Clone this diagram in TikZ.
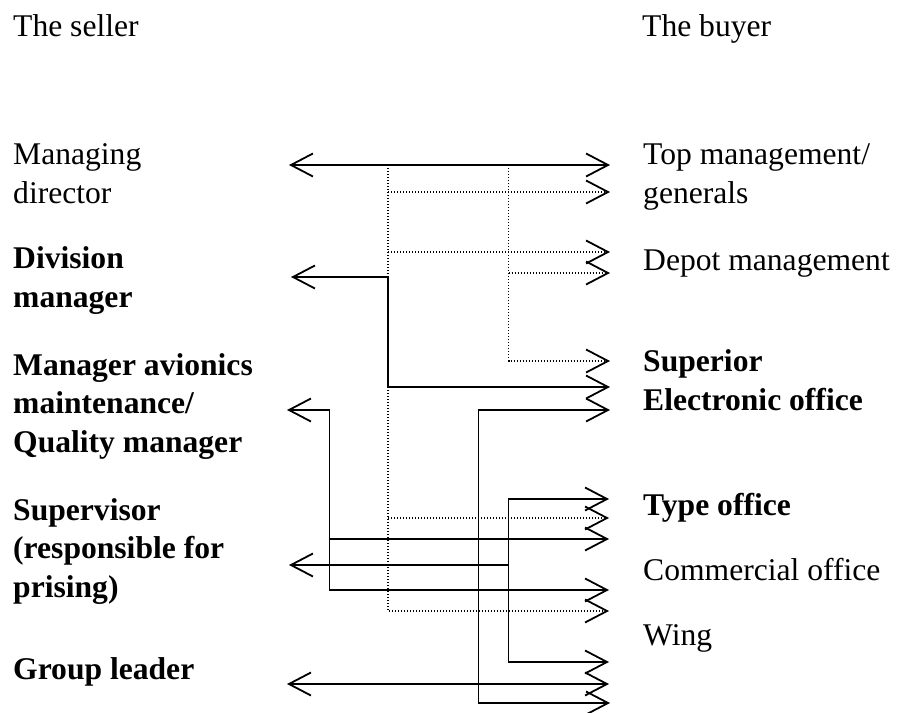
\documentclass[tikz,border=0pt]{standalone}
\usepackage{fontspec}
\setmainfont[Ligatures=CommonOff]{Liberation Serif}
\usetikzlibrary{arrows.meta}
\begin{document}
\begin{tikzpicture}[x=1pt,y=-1pt,
  barb/.tip={Straight Barb[length=22pt,width=23pt,line width=1.8pt]},
  lbl/.style={anchor=base west, inner sep=0pt, align=left,
    font=\fontsize{31.6}{38.3}\selectfont},
  blbl/.style={lbl, font=\fontsize{31.6}{38.3}\selectfont\bfseries},
  link/.style={line width=1.8pt},
  weak/.style={line width=1.3pt, dash pattern=on 1.3pt off 1.7pt},
  ]
\useasboundingbox (0,0) rectangle (898,713);

% column headings
\node[lbl] (seller) at (13,36) {The seller};
\node[lbl] (buyer) at (642,36) {The buyer};

% seller side (multi-line labels sit on the baseline of their last line)
\node[lbl]  (md)  at (13,203) {Managing\\director};
\node[blbl] (div) at (13,307) {Division\\manager};
\node[blbl] (avi) at (13,452) {Manager avionics\\maintenance/\\Quality manager};
\node[blbl] (sup) at (13,597) {Supervisor\\(responsible for\\prising)};
\node[blbl] (grp) at (13,679) {Group leader};

% buyer side
\node[lbl]  (top)   at (643,203) {Top management/\\generals};
\node[lbl]  (depot) at (643,270) {Depot management};
\node[blbl] (elec)  at (643,410) {Superior\\Electronic office};
\node[blbl] (type)  at (643,515) {Type office};
\node[lbl]  (comm)  at (643,580) {Commercial office};
\node[lbl]  (wing)  at (643,645) {Wing};

% ports on the seller side
\coordinate (pMD)  at (289,165);
\coordinate (pDIV) at (291,277);
\coordinate (pAVI) at (287,410);
\coordinate (pSUP) at (289,565);
\coordinate (pGRP) at (287,684);

% ports on the buyer side
\coordinate (qTOP1) at (610,165);
\coordinate (qTOP2) at (610,192);
\coordinate (qDEP1) at (610,252);
\coordinate (qDEP2) at (610,273);
\coordinate (qSUP1) at (610,361);
\coordinate (qSUP2) at (610,387);
\coordinate (qSUP3) at (610,410);
\coordinate (qTYP1) at (609,499);
\coordinate (qTYP2) at (609,518);
\coordinate (qTYP3) at (609,539);
\coordinate (qCOM1) at (609,590);
\coordinate (qCOM2) at (609,611);
\coordinate (qWNG1) at (609,662);
\coordinate (qWNG2) at (609,684);
\coordinate (qWNG3) at (610,703);

% junctions on the vertical buses
\coordinate (jB0)  at (388,165);
\coordinate (jB1)  at (388,192);
\coordinate (jB2)  at (388,252);
\coordinate (jB3)  at (388,518);
\coordinate (jD0)  at (508.5,165);
\coordinate (jD1)  at (508.5,273);
\coordinate (jDIV) at (388,387);
\coordinate (jA1)  at (329.5,539);
\coordinate (jAVI) at (329.5,590);
\coordinate (jS1)  at (508.5,565);
\coordinate (jSUP) at (508.5,662);
\coordinate (jEL)  at (478.5,703);

% dotted (informal) contacts
\draw[weak,-barb] (jB0) |- (qCOM2);
\draw[weak,-barb] (jB1) -- (qTOP2);
\draw[weak,-barb] (jB2) -- (qDEP1);
\draw[weak,-barb] (jB3) -- (qTYP2);
\draw[weak,-barb] (jD0) |- (qSUP1);
\draw[weak,-barb] (jD1) -- (qDEP2);

% solid (formal) contacts
\draw[link,barb-barb] (pMD) -- (qTOP1);
\draw[link,barb-barb] (pDIV) -| (jDIV) -- (qSUP2);
\draw[link,barb-barb] (pAVI) -| (jAVI) -- (qCOM1);
\draw[link,-barb] (jA1) -- (qTYP3);
\draw[link,barb-barb] (qTYP1) -| (jSUP) -- (qWNG1);
\draw[link,barb-] (pSUP) -- (jS1);
\draw[link,barb-barb] (pGRP) -- (qWNG2);
\draw[link,barb-barb] (qSUP3) -| (jEL) -- (qWNG3);
\end{tikzpicture}
\end{document}
